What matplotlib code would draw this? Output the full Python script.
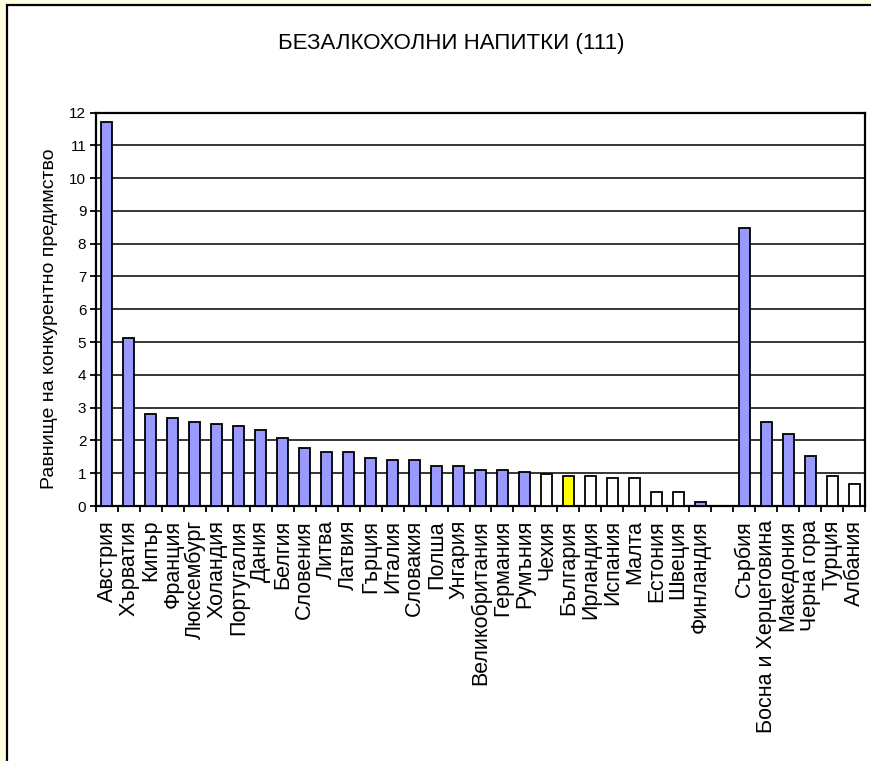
import matplotlib
matplotlib.use("Agg")
import matplotlib.pyplot as plt
from matplotlib.patches import Rectangle
import numpy as np

plt.rcParams['font.family'] = ['Liberation Sans', 'DejaVu Sans']

title = "БЕЗАЛКОХОЛНИ НАПИТКИ (111)"
ylabel = "Равнище на конкурентно предимство"
categories = ["Австрия", "Хърватия", "Кипър", "Франция", "Люксембург", "Холандия",
              "Португалия", "Дания", "Белгия", "Словения", "Литва", "Латвия",
              "Гърция", "Италия", "Словакия", "Полша", "Унгария", "Великобритания",
              "Германия", "Румъния", "Чехия", "България", "Ирландия", "Испания",
              "Малта", "Естония", "Швеция", "Финландия", "",
              "Сърбия", "Босна и Херцеговина", "Македония", "Черна гора",
              "Турция", "Албания"]
values = [11.7, 5.12, 2.80, 2.68, 2.56, 2.50,
          2.44, 2.32, 2.07, 1.77, 1.65, 1.65,
          1.47, 1.40, 1.40, 1.22, 1.22, 1.10,
          1.10, 1.04, 0.98, 0.90, 0.90, 0.85,
          0.85, 0.42, 0.42, 0.12, 0.0,
          8.47, 2.55, 2.19, 1.52, 0.91, 0.67]
colors = ["#9999FF"] * 20 + ["#FFFFFF", "#FFFF00", "#FFFFFF", "#FFFFFF",
          "#FFFFFF", "#FFFFFF", "#FFFFFF", "#9999FF", "#FFFFFF",
          "#9999FF", "#9999FF", "#9999FF", "#9999FF", "#FFFFFF", "#FFFFFF"]
yticks = list(range(0, 13))

W, H = 871, 761
fig = plt.figure(figsize=(W / 100, H / 100), dpi=100, facecolor="#FFFFE0")
fig.patches.append(Rectangle((7 / W, -0.1), 2.0, (1 - 5 / H) + 0.1,
                             transform=fig.transFigure, facecolor="white",
                             edgecolor="black", linewidth=1.6, zorder=-10))

ax = fig.add_axes([96 / W, 1 - 506 / H, (865 - 96) / W, (506 - 112.5) / H])
ax.set_facecolor("white")
x = np.arange(len(categories))
for xi, v, c in zip(x, values, colors):
    if v > 0:
        ax.bar(xi, v, width=0.5, color=c, edgecolor="black", linewidth=1.3, zorder=3)

ax.set_xlim(-0.5, len(categories) - 0.5)
ax.set_ylim(0, 12)
ax.set_yticks(yticks)
ax.set_yticklabels([str(t) for t in yticks], fontsize=11)
ax.yaxis.grid(True, color="black", linewidth=1.1, zorder=1)
ax.set_axisbelow(True)

ax.set_xticks(x)
ax.set_xticklabels(categories, rotation=90, fontsize=15.5, va="top", ha="center")
ax.tick_params(axis="x", which="major", length=0, pad=10)
ax.set_xticks(np.arange(-0.5, len(categories)), minor=True)
ax.tick_params(axis="x", which="minor", length=4, width=1.3, direction="out")
ax.tick_params(axis="y", length=4, width=1.3, direction="out", pad=3)

for s in ax.spines.values():
    s.set_color("black")
    s.set_linewidth(1.6)

ax.set_ylabel(ylabel, fontsize=14)
ax.yaxis.set_label_coords(-0.050, 0.475)
fig.text(451 / W, 1 - 43 / H, title, fontsize=16, ha="center", va="center")

fig.savefig("out.png", dpi=100, facecolor=fig.get_facecolor())
